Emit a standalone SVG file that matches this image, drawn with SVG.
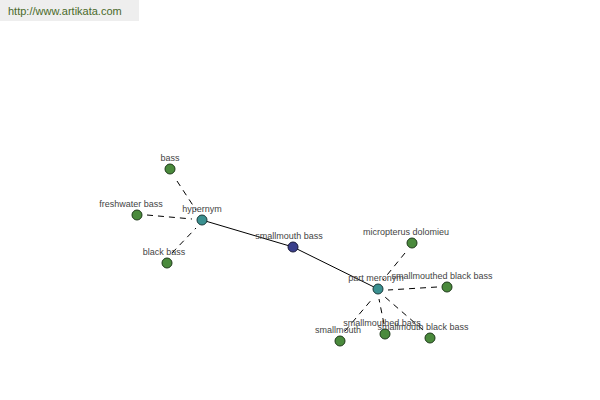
<svg xmlns="http://www.w3.org/2000/svg" width="600" height="400" viewBox="0 0 600 400">
<style>
.lbl{font-family:"Liberation Sans",Arial,sans-serif;font-size:9px;fill:#444;text-anchor:middle}
.leaf{fill:#4a8a3c;stroke:#1e3a1a;stroke-width:1}
.hub{fill:#3a9090;stroke:#1a3a3a;stroke-width:1}
.root{fill:#3a3f8c;stroke:#1a1a3a;stroke-width:1}
.solid{stroke:#000;stroke-width:1;fill:none}
.dash{stroke:#000;stroke-width:1;stroke-dasharray:6,5;fill:none}
</style>
<rect x="0" y="0" width="139" height="21" fill="#eeeeee"/>
<text x="8" y="15" font-family="Liberation Sans,Arial,sans-serif" font-size="11" fill="#4a6a2a">http://www.artikata.com</text>
<g id="connectors">
<line class="solid" x1="202" y1="220" x2="293" y2="247"/>
<line class="solid" x1="293" y1="247" x2="378" y2="289"/>
<line class="dash" x1="177" y1="181" x2="196" y2="210"/>
<line class="dash" x1="147" y1="215" x2="192" y2="219"/>
<line class="dash" x1="172" y1="253" x2="196" y2="228"/>
<line class="dash" x1="405" y1="253" x2="383" y2="280"/>
<line class="dash" x1="437" y1="287" x2="388" y2="290"/>
<line class="dash" x1="345" y1="331" x2="373" y2="298"/>
<line class="dash" x1="384" y1="324" x2="379" y2="299"/>
<line class="dash" x1="423" y1="330" x2="385" y2="297"/>
</g>
<g id="n-bass"><circle class="leaf" cx="170" cy="169" r="5"/><text class="lbl" x="170" y="161">bass</text></g>
<g id="n-freshwater"><circle class="leaf" cx="137" cy="215" r="5"/><text class="lbl" x="131" y="207">freshwater bass</text></g>
<g id="n-blackbass"><circle class="leaf" cx="167" cy="263" r="5"/><text class="lbl" x="164" y="255">black bass</text></g>
<g id="n-hypernym"><circle class="hub" cx="202" cy="220" r="5"/><text class="lbl" x="202" y="212">hypernym</text></g>
<g id="n-smallmouthbass"><circle class="root" cx="293" cy="247" r="5"/><text class="lbl" x="289" y="239">smallmouth bass</text></g>
<g id="n-partmeronym"><circle class="hub" cx="378" cy="289" r="5"/><text class="lbl" x="376" y="281">part meronym</text></g>
<g id="n-micropterus"><circle class="leaf" cx="412" cy="243" r="5"/><text class="lbl" x="406" y="235">micropterus dolomieu</text></g>
<g id="n-smbb"><circle class="leaf" cx="447" cy="287" r="5"/><text class="lbl" x="442" y="279">smallmouthed black bass</text></g>
<g id="n-smallmouth"><circle class="leaf" cx="340" cy="341" r="5"/><text class="lbl" x="338" y="333">smallmouth</text></g>
<g id="n-smb"><circle class="leaf" cx="385" cy="334" r="5"/><text class="lbl" x="382" y="326">smallmouthed bass</text></g>
<g id="n-smblack"><circle class="leaf" cx="430" cy="338" r="5"/><text class="lbl" x="423" y="330">smallmouth black bass</text></g>
</svg>
